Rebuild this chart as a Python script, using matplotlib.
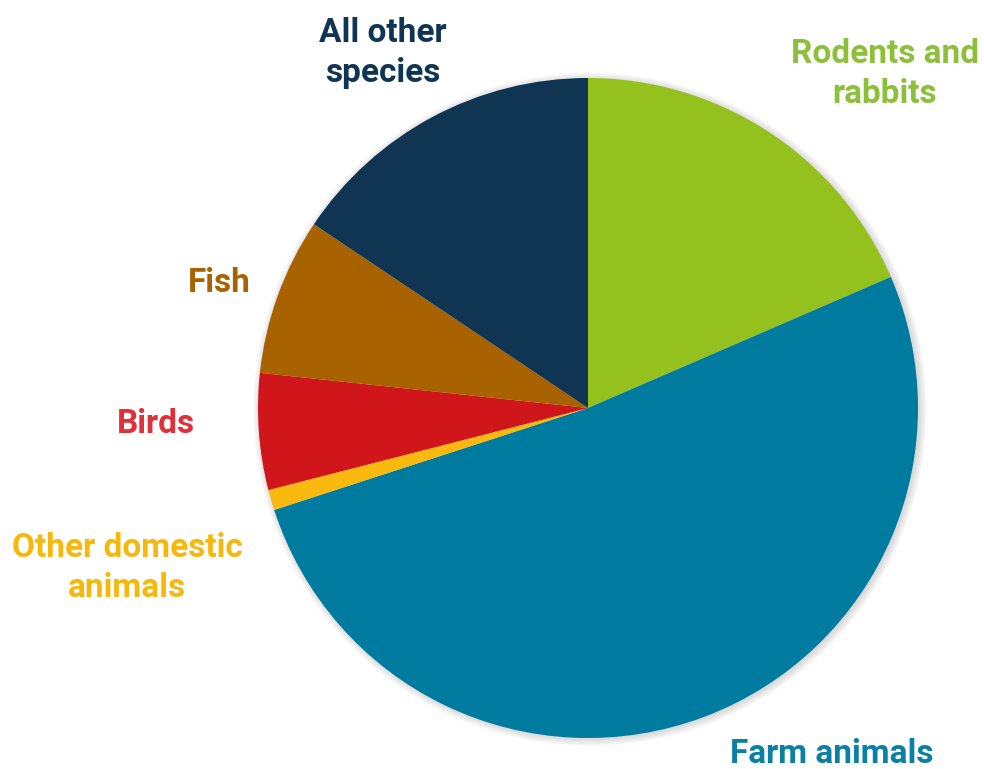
import matplotlib.pyplot as plt
from matplotlib.patches import Circle

labels = ['Rodents and\nrabbits', 'Farm animals', 'Other domestic\nanimals', 'Birds', 'Fish', 'All other\nspecies']
shares = [18.5, 51.5, 1.0, 5.7, 7.7, 15.6]
colors = ['#95C11F', '#007BA0', '#F9B90F', '#D0161A', '#A86300', '#0F3553']
label_colors = ['#8DC03A', '#0A80A2', '#F6B80C', '#E0303A', '#A86300', '#0F3553']
# label centres in pixels of the original image
label_px = [(885, 74), (832, 754), (127, 568), (156, 424), (219, 283), (383, 53)]

W, H = 984, 769
cx, cy, r = 588, 408, 330

fig = plt.figure(figsize=(W / 100, H / 100), dpi=100)
ax = fig.add_axes([0, 0, 1, 1])

# soft shadow round the pie
for k in range(6):
    ax.add_patch(Circle((0.006, -0.004), 1 + 0.004 * k, color='gray', alpha=0.05,
                        lw=0, zorder=0))

ax.pie(shares, colors=colors, startangle=90, counterclock=False, radius=1,
       wedgeprops={'linewidth': 0, 'zorder': 1})
ax.set_xlim(-cx / r, (W - cx) / r)
ax.set_ylim(-(H - cy) / r, cy / r)
ax.set_aspect('auto')
ax.axis('off')

for lab, col, (px, py) in zip(labels, label_colors, label_px):
    ax.text((px - cx) / r, (cy - py) / r, lab, color=col, ha='center', va='center',
            fontsize=24, fontweight='bold', family=['Roboto', 'DejaVu Sans'],
            linespacing=1.35)

fig.savefig('out.png', dpi=100)
